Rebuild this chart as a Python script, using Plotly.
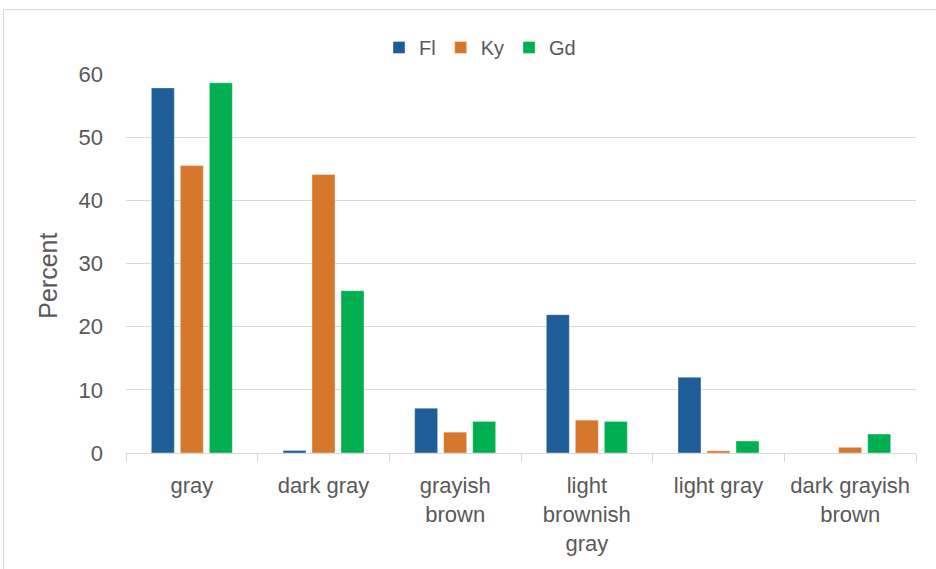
import plotly.graph_objects as go

categories = ["gray", "dark gray", "grayish<br>brown", "light<br>brownish<br>gray",
              "light gray", "dark grayish<br>brown"]
fl_values = [57.8, 0.4, 7.1, 21.9, 12.0, 0.0]
ky_values = [45.5, 44.1, 3.3, 5.2, 0.35, 0.9]
gd_values = [58.6, 25.7, 5.0, 5.0, 1.9, 3.0]
y_ticks = [0, 10, 20, 30, 40, 50, 60]

series = [("Fl", fl_values, "#1F5D99"),
          ("Ky", ky_values, "#D6772B"),
          ("Gd", gd_values, "#00B050")]

FONT = "Liberation Sans"
TEXT = "#595959"
GRID = "#D9D9D9"

fig = go.Figure()
for name, vals, color in series:
    fig.add_trace(go.Bar(
        x=categories, y=vals, name=name,
        marker=dict(color=color, line=dict(color="rgba(255,255,255,0.5)", width=0.75)),
    ))

fig.update_layout(
    width=936, height=569,
    margin=dict(l=126, r=20, t=74, b=115.5, autoexpand=False),
    paper_bgcolor="white", plot_bgcolor="white",
    barmode="group", bargap=0.339, bargroupgap=0.207,
    font=dict(family=FONT, size=22, color=TEXT),
    showlegend=True,
    legend=dict(orientation="h", x=(480 - 126) / 790, xanchor="center", y=1.07, yanchor="middle",
                font=dict(family=FONT, size=20, color=TEXT),
                itemwidth=30, traceorder="normal", bgcolor="rgba(0,0,0,0)"),
    xaxis=dict(type="category", tickson="boundaries", ticks="outside", ticklen=8,
               tickcolor=GRID, tickwidth=1, showline=True, linecolor=GRID, linewidth=1,
               showgrid=False, ticklabelstandoff=13,
               tickfont=dict(family=FONT, size=22, color=TEXT)),
    yaxis=dict(range=[0, 60], tickvals=y_ticks, showgrid=True, gridcolor=GRID, gridwidth=1,
               zeroline=False, showline=False, ticks="", ticklabelstandoff=22,
               tickfont=dict(family=FONT, size=22, color=TEXT)),
    annotations=[dict(text="Percent", textangle=-90, xref="paper", yref="paper",
                      x=(48 - 126) / 790, y=(453.5 - 276) / 379.5, xanchor="center", yanchor="middle",
                      showarrow=False, font=dict(family=FONT, size=25, color=TEXT))],
    shapes=[dict(type="rect", xref="paper", yref="paper",
                 x0=(3.5 - 126) / 790, x1=1.2, y0=-0.5, y1=(453.5 - 9.5) / 379.5,
                 line=dict(color=GRID, width=1), fillcolor="rgba(0,0,0,0)", layer="below")],
)

fig.write_html("out.html")
